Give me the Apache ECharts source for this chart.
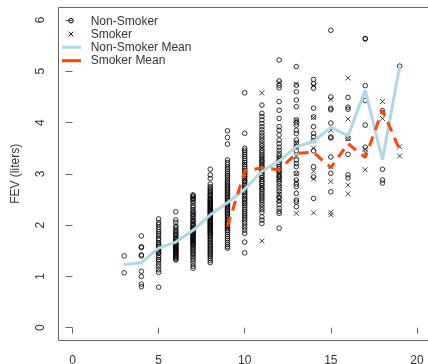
<!DOCTYPE html>
<html>
<head>
<meta charset="utf-8">
<script src="https://cdn.jsdelivr.net/npm/echarts@6/dist/echarts.min.js"></script>
<style>
html,body{margin:0;padding:0;background:#fff;}
#chart{width:428px;height:364px;}
</style>
</head>
<body>
<div id="chart"></div>
<script>
// ---- Data ----
const xTicks = [0, 5, 10, 15, 20];
const yTicks = [0, 1, 2, 3, 4, 5, 6];

// Non-smoker FEV values per age
const nonSmoker3 = [1.40, 1.07];
const nonSmoker4 = [1.79, 1.58, 1.56, 1.40, 1.42, 1.10, 1.00, 0.85, 0.80];
const nonSmoker5 = [2.12, 2.05, 2.01, 1.96, 1.91, 1.87, 1.83, 1.79, 1.74, 1.71, 1.66, 1.63, 1.61, 1.58, 1.55, 1.53, 1.50, 1.47, 1.45, 1.41, 1.37, 1.33, 1.30, 1.24, 1.19, 1.13, 1.08, 0.79];
const nonSmoker6 = [2.26, 2.10, 2.05, 1.98, 1.95, 1.91, 1.88, 1.85, 1.82, 1.80, 1.76, 1.74, 1.71, 1.69, 1.67, 1.65, 1.63, 1.62, 1.60, 1.58, 1.57, 1.55, 1.54, 1.52, 1.51, 1.49, 1.47, 1.46, 1.44, 1.42, 1.40, 1.38, 1.36, 1.34, 1.32];
const nonSmoker7 = [2.59, 2.57, 2.55, 2.52, 2.50, 2.47, 2.43, 2.38, 2.35, 2.30, 2.27, 2.24, 2.21, 2.18, 2.16, 2.12, 2.09, 2.07, 2.04, 2.01, 1.99, 1.96, 1.94, 1.92, 1.90, 1.88, 1.86, 1.84, 1.82, 1.80, 1.78, 1.76, 1.74, 1.72, 1.70, 1.68, 1.66, 1.64, 1.62, 1.60, 1.57, 1.54, 1.51, 1.48, 1.45, 1.42, 1.38, 1.34, 1.30, 1.25, 1.20, 1.16];
const nonSmoker8 = [3.09, 2.98, 2.91, 2.80, 2.75, 2.72, 2.69, 2.66, 2.63, 2.60, 2.58, 2.55, 2.52, 2.50, 2.48, 2.46, 2.44, 2.42, 2.40, 2.38, 2.36, 2.34, 2.32, 2.30, 2.28, 2.27, 2.25, 2.23, 2.21, 2.19, 2.17, 2.15, 2.13, 2.11, 2.09, 2.07, 2.05, 2.03, 2.01, 1.99, 1.97, 1.95, 1.93, 1.91, 1.89, 1.87, 1.85, 1.83, 1.81, 1.78, 1.75, 1.72, 1.69, 1.66, 1.63, 1.60, 1.57, 1.54, 1.51, 1.48, 1.45, 1.42, 1.39, 1.35, 1.31, 1.27];
const nonSmoker9 = [3.84, 3.71, 3.58, 3.27, 3.22, 3.18, 3.13, 3.09, 3.05, 3.01, 2.97, 2.94, 2.90, 2.86, 2.83, 2.80, 2.77, 2.74, 2.71, 2.68, 2.65, 2.62, 2.59, 2.56, 2.53, 2.51, 2.48, 2.45, 2.42, 2.40, 2.37, 2.34, 2.31, 2.29, 2.26, 2.23, 2.20, 2.17, 2.14, 2.11, 2.08, 2.05, 2.02, 1.98, 1.94, 1.90, 1.86, 1.82, 1.78, 1.74, 1.70, 1.66, 1.62, 1.58, 1.55];
const nonSmoker10 = [4.58, 3.79, 3.50, 3.46, 3.42, 3.38, 3.34, 3.30, 3.26, 3.22, 3.18, 3.14, 3.10, 3.06, 3.02, 2.98, 2.95, 2.91, 2.87, 2.84, 2.80, 2.77, 2.73, 2.70, 2.66, 2.63, 2.59, 2.56, 2.52, 2.49, 2.45, 2.42, 2.38, 2.34, 2.30, 2.26, 2.22, 2.18, 2.14, 2.10, 2.05, 2.00, 1.95, 1.90, 1.84, 1.67, 1.46];
const nonSmoker11 = [4.34, 4.18, 4.12, 4.05, 3.98, 3.92, 3.86, 3.80, 3.75, 3.70, 3.65, 3.60, 3.55, 3.50, 3.45, 3.41, 3.37, 3.33, 3.29, 3.25, 3.21, 3.17, 3.13, 3.09, 3.05, 3.01, 2.97, 2.93, 2.89, 2.85, 2.81, 2.77, 2.73, 2.69, 2.65, 2.61, 2.57, 2.53, 2.49, 2.45, 2.40, 2.35, 2.30, 2.25, 2.16, 2.10, 2.03];
const nonSmoker12 = [5.22, 4.81, 4.73, 4.68, 4.41, 4.24, 4.08, 3.92, 3.85, 3.76, 3.66, 3.59, 3.52, 3.46, 3.40, 3.35, 3.30, 3.26, 3.22, 3.18, 3.14, 3.10, 3.06, 3.02, 2.98, 2.94, 2.90, 2.86, 2.81, 2.76, 2.71, 2.66, 2.60, 2.54, 2.47, 2.40, 2.33, 2.27, 2.23, 1.94];
const nonSmoker13 = [5.09, 4.73, 4.60, 4.44, 4.31, 4.05, 4.00, 3.95, 3.85, 3.79, 3.66, 3.60, 3.53, 3.45, 3.27, 3.20, 3.14, 3.01, 2.88, 2.80, 2.75, 2.62, 2.49, 2.45, 2.36];
const nonSmoker14 = [4.84, 4.76, 4.67, 4.28, 4.11, 3.92, 3.79, 3.72, 3.65, 3.45, 3.14, 2.94, 2.52];
const nonSmoker15 = [5.80, 4.50, 4.28, 4.25, 3.99, 3.72, 3.70, 3.33, 3.01, 2.65];
const nonSmoker16 = [4.49, 4.30, 4.26, 3.69, 3.38, 2.98, 2.92];
const nonSmoker17 = [5.63, 5.64, 4.72, 4.43, 3.95, 3.52];
const nonSmoker18 = [4.23, 3.09, 2.88, 2.82];
const nonSmoker19 = [5.10];

// Smoker FEV values per age
const smoker9 = [1.97, 2.00, 1.94];
const smoker10 = [3.20, 2.90, 3.05];
const smoker11 = [4.58, 1.69, 3.20, 3.50, 2.90, 3.05, 3.30, 2.75];
const smoker12 = [4.78, 3.30, 2.90, 2.60, 2.50, 3.00, 2.50];
const smoker13 = [4.75, 4.05, 3.35, 3.00, 2.23, 3.60, 2.85];
const smoker14 = [4.72, 4.10, 3.50, 2.90, 2.24, 3.05];
const smoker15 = [4.45, 3.14, 2.85, 2.25, 2.20, 3.85];
const smoker16 = [4.87, 4.07, 3.69, 2.78, 2.61];
const smoker17 = [3.42, 3.08, 3.48];
const smoker18 = [4.41, 4.08];
const smoker19 = [3.53, 3.35];

// Mean lines
const nonSmokerMeanAges = [3, 4, 5, 6, 7, 8, 9, 10, 11, 12, 13, 14, 15, 16, 17, 18, 19];
const nonSmokerMean = [1.23, 1.27, 1.55, 1.67, 1.90, 2.20, 2.44, 2.70, 3.05, 3.25, 3.53, 3.63, 3.91, 3.74, 4.63, 3.27, 5.10];
const smokerMeanAges = [9, 10, 11, 12, 13, 14, 15, 16, 17, 18, 19];
const smokerMean = [1.97, 3.05, 3.12, 3.08, 3.40, 3.42, 3.12, 3.59, 3.32, 4.24, 3.47];

const legendLabels = ['Non-Smoker', 'Smoker', 'Non-Smoker Mean', 'Smoker Mean'];
const yTitle = 'FEV (liters)';

// ---- Build series data ----
const nonSmokerByAge = [[3, nonSmoker3], [4, nonSmoker4], [5, nonSmoker5], [6, nonSmoker6], [7, nonSmoker7], [8, nonSmoker8], [9, nonSmoker9], [10, nonSmoker10], [11, nonSmoker11], [12, nonSmoker12], [13, nonSmoker13], [14, nonSmoker14], [15, nonSmoker15], [16, nonSmoker16], [17, nonSmoker17], [18, nonSmoker18], [19, nonSmoker19]];
const smokerByAge = [[9, smoker9], [10, smoker10], [11, smoker11], [12, smoker12], [13, smoker13], [14, smoker14], [15, smoker15], [16, smoker16], [17, smoker17], [18, smoker18], [19, smoker19]];
function flatten(list) {
  const out = [];
  list.forEach(([age, vals]) => vals.forEach(v => out.push([age, v])));
  return out;
}
const nsPoints = flatten(nonSmokerByAge);
const smPoints = flatten(smokerByAge);
const nsMeanData = nonSmokerMeanAges.map((a, i) => [a, nonSmokerMean[i]]);
const smMeanData = smokerMeanAges.map((a, i) => [a, smokerMean[i]]);

const FONT = '"Liberation Sans", Arial, sans-serif';
const BLUE = '#ADD8E6';
const RED = '#FF4500';
const XPATH = 'path://M0,0L10,10M10,0L0,10';
const FRAME = '#666';

const chart = echarts.init(document.getElementById('chart'), null, {renderer: 'canvas'});
chart.setOption({
  animation: false,
  backgroundColor: '#fff',
  grid: {left: 72.5, right: 11.1, top: 20, bottom: 36.3, containLabel: false, outerBoundsMode: 'none'},
  xAxis: {
    type: 'value', min: xTicks[0], max: xTicks[xTicks.length - 1], interval: 5,
    offset: 12.6,
    axisLine: {show: false},
    axisTick: {show: true, length: 6, lineStyle: {color: FRAME, width: 1}},
    axisLabel: {color: '#333', fontSize: 12, fontFamily: FONT, margin: 14},
    splitLine: {show: false}
  },
  yAxis: {
    type: 'value', min: yTicks[0], max: yTicks[yTicks.length - 1], interval: 1,
    offset: 14.2,
    axisLine: {show: false},
    axisTick: {show: true, length: 7, lineStyle: {color: FRAME, width: 1}},
    axisLabel: {color: '#333', fontSize: 12, fontFamily: FONT, rotate: 90, margin: 12},
    splitLine: {show: false},
    name: yTitle, nameLocation: 'middle', nameGap: 37, nameRotate: 90,
    nameTextStyle: {color: '#333', fontSize: 12, fontFamily: FONT}
  },
  series: [
    {
      name: legendLabels[0], type: 'scatter', data: nsPoints, symbol: 'circle', symbolSize: 4.6,
      itemStyle: {color: 'rgba(0,0,0,0)', borderColor: '#000', borderWidth: 1},
      silent: true, z: 2
    },
    {
      name: legendLabels[1], type: 'scatter', data: smPoints, symbol: XPATH, symbolSize: 5,
      itemStyle: {color: 'rgba(0,0,0,0)', borderColor: '#000', borderWidth: 0.9},
      silent: true, z: 3
    },
    {
      name: legendLabels[2], type: 'line', data: nsMeanData, showSymbol: false, symbol: 'none',
      lineStyle: {color: BLUE, width: 3}, silent: true, z: 4
    },
    {
      name: legendLabels[3], type: 'line', data: smMeanData, showSymbol: false, symbol: 'none',
      lineStyle: {color: RED, width: 3, type: [10, 7]}, silent: true, z: 5
    }
  ],
  graphic: [
    {type: 'polyline', shape: {points: [[430, 7.5], [58.5, 7.5], [58.5, 340.5], [430, 340.5]]}, style: {fill: null, stroke: FRAME, lineWidth: 1}, silent: true, z: 10},
    {type: 'circle', shape: {cx: 71, cy: 20.7, r: 2.3}, style: {fill: null, stroke: '#000', lineWidth: 1}, z: 10},
    {type: 'polyline', shape: {points: [[68.6, 31.6], [73.4, 36.4]]}, style: {stroke: '#000', lineWidth: 0.9}, z: 10},
    {type: 'polyline', shape: {points: [[73.4, 31.6], [68.6, 36.4]]}, style: {stroke: '#000', lineWidth: 0.9}, z: 10},
    {type: 'line', shape: {x1: 62, y1: 47.3, x2: 81, y2: 47.3}, style: {stroke: BLUE, lineWidth: 3}, z: 10},
    {type: 'line', shape: {x1: 62, y1: 60.7, x2: 81, y2: 60.7}, style: {stroke: RED, lineWidth: 3}, z: 10},
    {type: 'text', x: 90.7, y: 21.7, style: {text: legendLabels[0], fill: '#333', font: '12px ' + FONT, textVerticalAlign: 'middle'}, z: 10},
    {type: 'text', x: 90.7, y: 34.4, style: {text: legendLabels[1], fill: '#333', font: '12px ' + FONT, textVerticalAlign: 'middle'}, z: 10},
    {type: 'text', x: 90.7, y: 47.5, style: {text: legendLabels[2], fill: '#333', font: '12px ' + FONT, textVerticalAlign: 'middle'}, z: 10},
    {type: 'text', x: 90.7, y: 60.9, style: {text: legendLabels[3], fill: '#333', font: '12px ' + FONT, textVerticalAlign: 'middle'}, z: 10}
  ]
});
</script>
</body>
</html>
